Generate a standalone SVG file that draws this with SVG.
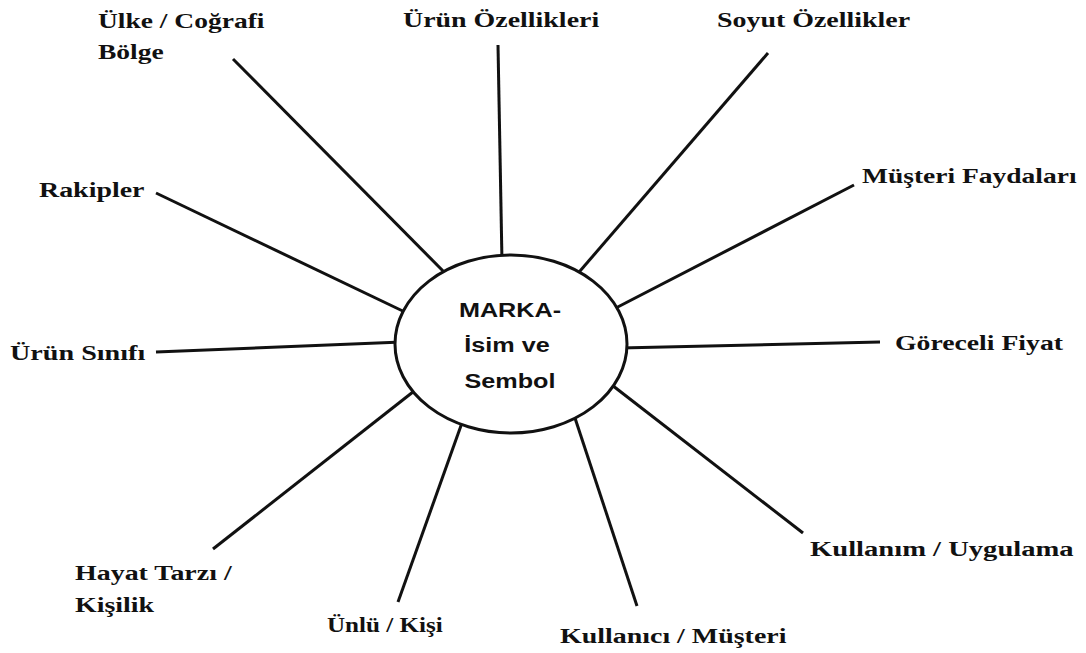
<svg xmlns="http://www.w3.org/2000/svg" width="1086" height="653" viewBox="0 0 1086 653">
  <style>
    .lbl { font-family: "Liberation Serif", "Times New Roman", serif; font-weight: bold; font-size: 22px; fill: #111; }
    .core { font-family: "Liberation Sans", Arial, sans-serif; font-weight: bold; font-size: 21px; fill: #111; text-anchor: middle; }
    .spoke { stroke: #111; stroke-width: 3; stroke-linecap: butt; fill: none; }
    .hub { fill: #fff; stroke: #111; stroke-width: 3; }
  </style>
  <rect width="1086" height="653" fill="#fff"/>

  <!-- spokes from the brand hub out to each association -->
  <g id="connectors">
    <line class="spoke" x1="233" y1="59" x2="450" y2="278"/>
    <line class="spoke" x1="498" y1="45" x2="502" y2="262"/>
    <line class="spoke" x1="768" y1="53" x2="574" y2="278"/>
    <line class="spoke" x1="854" y1="185" x2="610" y2="311"/>
    <line class="spoke" x1="880" y1="342" x2="620" y2="348"/>
    <line class="spoke" x1="803" y1="533" x2="608" y2="382"/>
    <line class="spoke" x1="637" y1="606" x2="573" y2="412"/>
    <line class="spoke" x1="398" y1="602" x2="463" y2="420"/>
    <line class="spoke" x1="213" y1="549" x2="418" y2="388"/>
    <line class="spoke" x1="156" y1="352" x2="402" y2="342"/>
    <line class="spoke" x1="156" y1="193" x2="409" y2="314"/>
  </g>

  <!-- central brand node -->
  <g id="hub">
    <ellipse class="hub" cx="511" cy="344" rx="116" ry="89"/>
    <text class="core" transform="translate(510,317) scale(1.2,1)">MARKA-</text>
    <text class="core" transform="translate(507,352) scale(1.2,1)">İsim ve</text>
    <text class="core" transform="translate(510,388) scale(1.2,1)">Sembol</text>
  </g>

  <g id="ulke"><text class="lbl" transform="translate(98,28) scale(1.25,1)">Ülke / Coğrafi</text>
    <text class="lbl" transform="translate(98,59) scale(1.25,1)">Bölge</text></g>
  <g id="urun-ozellikleri"><text class="lbl" transform="translate(403,27) scale(1.27,1)">Ürün Özellikleri</text></g>
  <g id="soyut"><text class="lbl" transform="translate(717,27) scale(1.27,1)">Soyut Özellikler</text></g>
  <g id="rakipler"><text class="lbl" transform="translate(39,197) scale(1.27,1)">Rakipler</text></g>
  <g id="musteri-faydalari"><text class="lbl" transform="translate(862,183) scale(1.25,1)">Müşteri Faydaları</text></g>
  <g id="goreceli-fiyat"><text class="lbl" transform="translate(895,350) scale(1.26,1)">Göreceli Fiyat</text></g>
  <g id="urun-sinifi"><text class="lbl" transform="translate(10,360) scale(1.28,1)">Ürün Sınıfı</text></g>
  <g id="hayat-tarzi"><text class="lbl" transform="translate(75,580) scale(1.27,1)">Hayat Tarzı /</text>
    <text class="lbl" transform="translate(75,612) scale(1.27,1)">Kişilik</text></g>
  <g id="unlu-kisi"><text class="lbl" transform="translate(327,632) scale(1.14,1)">Ünlü / Kişi</text></g>
  <g id="kullanim"><text class="lbl" transform="translate(810,556) scale(1.3,1)">Kullanım / Uygulama</text></g>
  <g id="kullanici"><text class="lbl" transform="translate(560,643) scale(1.27,1)">Kullanıcı / Müşteri</text></g>
</svg>
